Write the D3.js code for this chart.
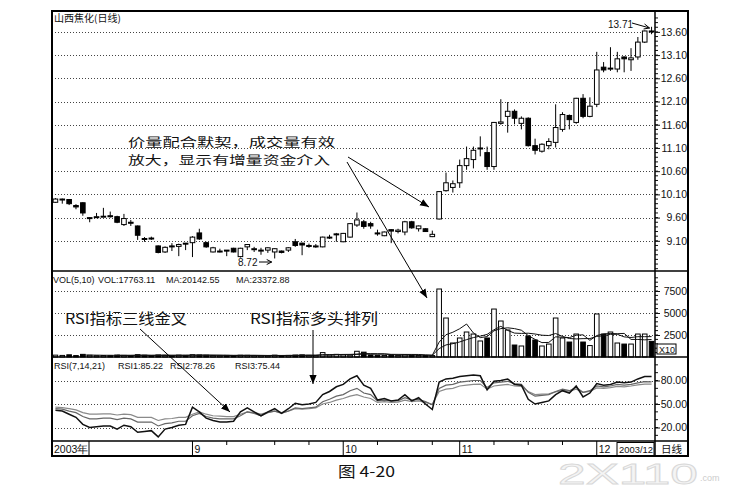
<!DOCTYPE html>
<html><head><meta charset="utf-8">
<script src="https://cdn.jsdelivr.net/npm/d3@7"></script>
<style>body{margin:0;background:#fff}svg{display:block}</style>
</head><body><svg id="c" width="738" height="490"></svg>
<script>
// ---------- data ----------
const opens = [9.93,10.00,9.99,9.86,9.92,9.60,9.61,9.62,9.64,9.62,
9.45,9.50,9.42,9.15,9.16,8.99,8.86,8.99,8.98,9.05,
9.06,9.27,9.06,8.86,8.88,8.90,8.94,8.76,8.97,8.93,
8.90,8.90,8.86,8.88,8.90,9.08,9.05,9.00,8.98,8.97,
9.18,9.24,9.08,9.18,9.44,9.51,9.47,9.27,9.21,9.34,
9.30,9.29,9.51,9.36,9.36,9.19,9.57,10.18,10.25,10.35,
10.72,10.85,11.08,11.00,10.70,11.63,11.78,11.89,11.63,11.74,
11.15,11.03,11.15,11.22,11.50,11.80,11.65,12.17,11.78,12.04,
12.84,12.80,12.80,13.06,13.00,13.06,13.38,13.62];
const closes = [10.00,10.00,9.90,9.83,9.70,9.60,9.62,9.63,9.63,9.50,
9.58,9.49,9.22,9.14,9.15,8.85,8.96,8.98,9.02,9.04,
9.18,9.14,8.97,8.95,8.88,8.89,8.86,8.94,9.02,8.93,
8.90,8.95,8.93,8.85,8.95,9.00,9.01,9.00,8.99,9.18,
9.18,9.25,9.26,9.47,9.55,9.41,9.42,9.26,9.29,9.31,
9.33,9.51,9.38,9.42,9.30,9.24,10.16,10.35,10.33,10.72,
10.87,11.05,11.10,10.70,11.65,11.66,11.89,11.74,11.74,11.15,
11.05,11.18,11.24,11.54,11.82,11.71,12.17,11.78,12.00,12.78,
12.78,12.82,13.02,13.02,13.04,13.38,13.62,13.60];
const highs = [10.02,10.01,10.00,9.89,9.93,9.61,9.70,9.81,9.73,9.64,
9.68,9.55,9.43,9.18,9.19,9.00,8.98,9.05,9.04,9.05,
9.20,9.36,9.08,8.97,8.93,8.90,8.95,8.95,9.03,8.97,
8.95,8.96,8.94,8.89,8.96,9.14,9.06,9.04,9.03,9.19,
9.23,9.27,9.27,9.48,9.71,9.55,9.51,9.34,9.30,9.35,
9.36,9.53,9.53,9.43,9.37,9.32,10.17,10.57,10.40,10.85,
11.13,11.13,11.35,11.13,11.66,12.15,12.09,11.93,11.78,11.76,
11.30,11.20,11.31,12.04,11.87,11.82,12.18,12.26,12.19,13.17,
12.95,13.27,13.17,13.07,13.25,13.49,13.63,13.71];
const lows = [9.92,9.90,9.87,9.78,9.64,9.50,9.60,9.61,9.60,9.48,
9.42,9.42,9.12,9.08,9.12,8.83,8.84,8.88,8.77,8.90,
8.75,9.12,8.95,8.85,8.85,8.77,8.85,8.74,8.90,8.86,
8.80,8.84,8.72,8.83,8.86,8.97,8.79,8.95,8.95,8.96,
9.14,9.08,9.07,9.17,9.40,9.36,9.36,9.21,9.20,9.05,
9.26,9.22,9.36,9.30,9.29,9.18,9.56,10.16,10.14,10.24,
10.63,10.66,10.92,10.63,10.63,11.60,11.43,11.61,11.50,11.13,
10.96,11.00,11.07,11.11,11.45,11.50,11.62,11.74,11.76,11.98,
12.73,12.76,12.73,12.73,12.76,13.00,13.36,13.55];
// volume in units of x10 hands
const volumes = [210,180,250,160,300,200,150,170,160,220,
180,150,260,200,170,230,190,160,210,180,
260,230,200,170,150,180,160,200,190,170,
160,150,210,170,180,220,240,190,180,500,
230,300,250,210,650,550,230,200,180,210,
190,260,220,180,170,160,7727,4430,1590,2160,
2840,2610,1820,2160,5450,4090,3070,1360,1250,2380,
1930,1250,1470,4430,2160,1700,2610,1700,1300,4890,
2610,2840,1590,1470,1470,2610,2610,1776];
const rsi1 = [42,41,37,33,24,20,21,22,22,18,
23,21,14,15,16,8,18,20,23,24,
46,40,32,29,27,27,28,40,45,40,
35,40,44,38,44,51,49,50,52,62,
66,72,75,82,86,74,70,55,57,54,
55,62,54,58,50,43,78,82,83,85,
86,87,86,68,79,80,82,75,74,56,
50,52,54,62,67,64,73,59,64,76,
74,75,78,77,78,82,85,85.22];
const rsi2 = [44,43.5,41,39,34,31,31,32,32,30,
32,31,27,27,27,22,25,26,28,28,
35,38,34,32,31,31,31,35,40,38,
35,39,41,38,41,45,44,45,46,53,
56,60,62,67,70,64,62,54,55,54,
54,58,55,56,53,49,70,74,75,78,
79,80,80,71,77,78,79,76,75,65,
60,61,62,66,69,67,71,65,67,73,
72,73,75,74,75,77,78.5,78.26];
const rsi3 = [46,45.5,44,42.5,39,37,37,37.5,37.5,36,
37,36.5,33,33,33,29,31,31.5,33,33,
37,40,37,35,34.5,34,34,37,40,39,
37,39.5,41,39,41,44,43.5,44,45,50,
52,55,57,60,62,59,57,52,53,52,
52.5,55,53,54,52,49.5,66,69,70,73,
74,75,75.5,69,73,74,75,73,72.5,66,
62,62.5,63,65.5,67.5,66.5,69,65,66,70.5,
70,71,72.5,72,73,74.5,75.5,75.44];
const priceTicks = [9.10,9.60,10.10,10.60,11.10,11.60,12.10,12.60,13.10,13.60];
const volTicks = [2500,5000,7500];
const rsiTicks = [20,50,80];
const monthIdx = [20,42,59,79];
const monthText = ["9","10","11","12"];
const minorDateIdx = [25,32,37,47,55,64,69,74];

// ---------- layout ----------
const L=52, R=655, RR=688, T=11, P1=271, P2=357, P3=441, B=456;
const svg = d3.select("#c");
svg.append("rect").attr("width",738).attr("height",490).attr("fill","#fff");
const idx = d3.range(opens.length);
const x = d3.scaleBand().domain(idx).range([L,R]);
const cx = i => x(i)+x.bandwidth()/2;
const yP = d3.scaleLinear().domain([8.45,14.05]).range([P1,T]);
const yV = d3.scaleLinear().domain([0,9773]).range([P2,P1]);
const yR = d3.scaleLinear().domain([2.8,110]).range([P3,P2]);
const font = "Liberation Sans, Arial, sans-serif";

// gridlines
function grid(scale, ticks){
  svg.append("g").selectAll("line").data(ticks).join("line")
    .attr("x1",L).attr("x2",R).attr("y1",d=>Math.round(scale(d))+0.5).attr("y2",d=>Math.round(scale(d))+0.5)
    .attr("stroke","#444").attr("stroke-width",1).attr("stroke-dasharray","1,2");
}
grid(yP, priceTicks); grid(yV, volTicks); grid(yR, rsiTicks);

// right axes
function rightAxis(scale, ticks, fmt, minorStep, dom){
  const g = svg.append("g").attr("transform",`translate(${R},0)`);
  const ax = d3.axisRight(scale).tickValues(ticks).tickFormat(fmt).tickSize(5).tickPadding(2);
  g.call(ax);
  g.select(".domain").remove();
  g.selectAll("text").attr("font-family",font).attr("font-size",10.5).attr("fill","#111")
    .attr("text-anchor","end").attr("x",RR-R-1);
  g.selectAll("line").attr("stroke","#111");
  if(minorStep){
    const m = d3.range(dom[0],dom[1],minorStep);
    g.selectAll(".mn").data(m).join("line").attr("class","mn")
      .attr("x1",0).attr("x2",3).attr("y1",d=>scale(d)).attr("y2",d=>scale(d)).attr("stroke","#111");
  }
}
rightAxis(yP, priceTicks, d3.format(".2f"), 0.1, [8.5,14.0]);
rightAxis(yV, volTicks, d3.format("d"), 500, [500,9500]);
rightAxis(yR, rsiTicks, d3.format(".2f"), 10, [10,101]);

// candles
const cg = svg.append("g");
idx.forEach(i=>{
  const up = closes[i]>=opens[i];
  cg.append("line").attr("x1",cx(i)).attr("x2",cx(i)).attr("y1",yP(highs[i])).attr("y2",yP(lows[i]))
    .attr("stroke","#000").attr("stroke-width",1);
  const y0 = yP(Math.max(opens[i],closes[i])), y1 = yP(Math.min(opens[i],closes[i]));
  cg.append("rect").attr("x",cx(i)-2.3).attr("width",4.6).attr("y",y0).attr("height",Math.max(1,y1-y0))
    .attr("fill",up?"#fff":"#000").attr("stroke","#000").attr("stroke-width",1);
});

// volume bars
const vg = svg.append("g");
idx.forEach(i=>{
  const up = closes[i]>=opens[i];
  vg.append("rect").attr("x",cx(i)-2.3).attr("width",4.6).attr("y",yV(volumes[i]))
    .attr("height",Math.max(0.5,yV(0)-yV(volumes[i])))
    .attr("fill",up?"#fff":"#000").attr("stroke","#000").attr("stroke-width",1);
});
function ma(n){ return idx.map(i=> i<n-1?null: d3.mean(volumes.slice(i-n+1,i+1))); }
[ma(5),ma(10)].forEach(s=>{
  svg.append("path").datum(idx.filter(i=>s[i]!=null))
    .attr("d",d3.line().x(i=>cx(i)).y(i=>yV(s[i])))
    .attr("fill","none").attr("stroke","#111").attr("stroke-width",1);
});

// RSI lines
[[rsi3,"#8a8a8a",1.2],[rsi2,"#666",1.2],[rsi1,"#111",1.5]].forEach(([s,c,w])=>{
  svg.append("path").datum(idx).attr("d",d3.line().x(i=>cx(i)).y(i=>yR(s[i])))
    .attr("fill","none").attr("stroke",c).attr("stroke-width",w);
});

// frames
svg.append("rect").attr("x",L).attr("y",T).attr("width",RR-L).attr("height",B-T)
  .attr("fill","none").attr("stroke","#000").attr("stroke-width",2);
svg.append("line").attr("x1",R).attr("x2",R).attr("y1",T).attr("y2",B).attr("stroke","#000").attr("stroke-width",1.5);
[P1,P2,P3].forEach(y=>svg.append("line").attr("x1",L).attr("x2",RR).attr("y1",y).attr("y2",y)
  .attr("stroke","#000").attr("stroke-width",1.5));

// date strip
monthIdx.forEach((m,k)=>{
  svg.append("line").attr("x1",cx(m)).attr("x2",cx(m)).attr("y1",P3).attr("y2",B).attr("stroke","#000");
  svg.append("text").attr("x",cx(m)+2).attr("y",P3+12).text(monthText[k])
    .attr("font-family",font).attr("font-size",10.5).attr("fill","#111");
});
minorDateIdx.forEach(m=>svg.append("line").attr("x1",cx(m)).attr("x2",cx(m)).attr("y1",P3).attr("y2",P3+4).attr("stroke","#000"));
svg.append("text").attr("x",54).attr("y",P3+12).text("2003年").attr("font-family",font).attr("font-size",10.5).attr("fill","#111");
svg.append("line").attr("x1",89).attr("x2",89).attr("y1",P3).attr("y2",B).attr("stroke","#000");
svg.append("rect").attr("x",617).attr("y",P3+1.5).attr("width",37).attr("height",13).attr("fill","#fff").attr("stroke","#000");
svg.append("text").attr("x",619).attr("y",P3+12).text("2003/12").attr("font-family",font).attr("font-size",9.5)
  .attr("fill","#111").attr("textLength",34).attr("lengthAdjust","spacingAndGlyphs");
svg.append("text").attr("x",661).attr("y",P3+12).text("日线").attr("font-family","Noto Sans CJK SC").attr("font-size",10.5).attr("fill","#111");

// panel titles
const small = (t,xx,yy)=>svg.append("text").attr("x",xx).attr("y",yy).text(t)
  .attr("font-family",font).attr("font-size",9).attr("fill","#111");
svg.append("text").attr("x",54).attr("y",22).text("山西焦化(日线)").attr("font-family","Noto Sans CJK SC")
  .attr("font-size",10).attr("fill","#111");
small("VOL(5,10)",53,283); small("VOL:17763.11",98,283); small("MA:20142.55",166,283); small("MA:23372.88",236,283);
small("RSI(7,14,21)",54,369); small("RSI1:85.22",118,369); small("RSI2:78.26",170,369); small("RSI3:75.44",235,369);
svg.append("rect").attr("x",657).attr("y",344).attr("width",19).attr("height",10).attr("fill","#fff").attr("stroke","#000");
svg.append("text").attr("x",659).attr("y",352.5).text("X10").attr("font-family",font).attr("font-size",9).attr("fill","#111");

// price markers
const iMax = d3.maxIndex(highs), iMin = d3.minIndex(lows);
svg.append("text").attr("x",608).attr("y",28).text(d3.format(".2f")(highs[iMax])).attr("font-family",font).attr("font-size",10).attr("fill","#111");
svg.append("line").attr("x1",632).attr("y1",23).attr("x2",cx(iMax)-2).attr("y2",28).attr("stroke","#000");
svg.append("path").attr("d",`M${cx(iMax)-2},28 l-5,-4 M${cx(iMax)-2},28 l-6,1`).attr("stroke","#000").attr("fill","none");
svg.append("text").attr("x",238).attr("y",266).text(d3.format(".2f")(lows[iMin])).attr("font-family",font).attr("font-size",10).attr("fill","#111");
svg.append("line").attr("x1",259).attr("y1",262).attr("x2",cx(iMin)-3).attr("y2",262).attr("stroke","#000");
svg.append("path").attr("d",`M${cx(iMin)-3},262 l-5,-2.5 M${cx(iMin)-3},262 l-5,2.5`).attr("stroke","#000").attr("fill","none");

// annotations
svg.append("defs").append("marker").attr("id","ah").attr("viewBox","0 0 10 10").attr("refX",10).attr("refY",5)
  .attr("markerWidth",9).attr("markerHeight",9).attr("orient","auto-start-reverse")
  .append("path").attr("d","M0,1 L10,5 L0,9 Z").attr("fill","#000");
const note = svg.append("text").attr("font-family","Noto Sans CJK SC").attr("font-size",12).attr("fill","#111");
note.append("tspan").attr("x",128).attr("y",147).text("价量配合默契，成交量有效")
  .attr("textLength",207).attr("lengthAdjust","spacingAndGlyphs");
note.append("tspan").attr("x",128).attr("y",164.5).text("放大，显示有增量资金介入")
  .attr("textLength",202).attr("lengthAdjust","spacingAndGlyphs");
const cn = (t,xx,yy,w,fs)=>svg.append("text").attr("x",xx).attr("y",yy).text(t)
  .attr("font-family","Noto Sans CJK SC").attr("font-size",fs).attr("fill","#111")
  .attr("textLength",w).attr("lengthAdjust","spacingAndGlyphs");
cn("RSI指标三线金叉",65,324,122,14.5);
cn("RSI指标多头排列",250,324,128,14.5);
const arrow=(x1,y1,x2,y2)=>svg.append("line").attr("x1",x1).attr("y1",y1).attr("x2",x2).attr("y2",y2)
  .attr("stroke","#000").attr("stroke-width",1).attr("marker-end","url(#ah)");
arrow(348,157,429,207);
arrow(347,162,427,298);
arrow(140,329,230,412);
arrow(313,330,313,384);

// caption & watermark
svg.append("text").attr("x",338).attr("y",477).text("图 4-20").attr("font-family","Noto Sans CJK SC")
  .attr("font-size",15).attr("fill","#111").attr("textLength",57).attr("lengthAdjust","spacingAndGlyphs");
svg.append("text").attr("x",558).attr("y",484).text("2X110").attr("font-family",font).attr("font-size",30)
  .attr("fill","#f4f4f4").attr("stroke","#d8d8d8").attr("stroke-width",0.8).attr("textLength",140).attr("lengthAdjust","spacingAndGlyphs");
svg.append("text").attr("x",700).attr("y",481).text(".com").attr("font-family",font).attr("font-size",9).attr("fill","#ccc");
</script></body></html>
